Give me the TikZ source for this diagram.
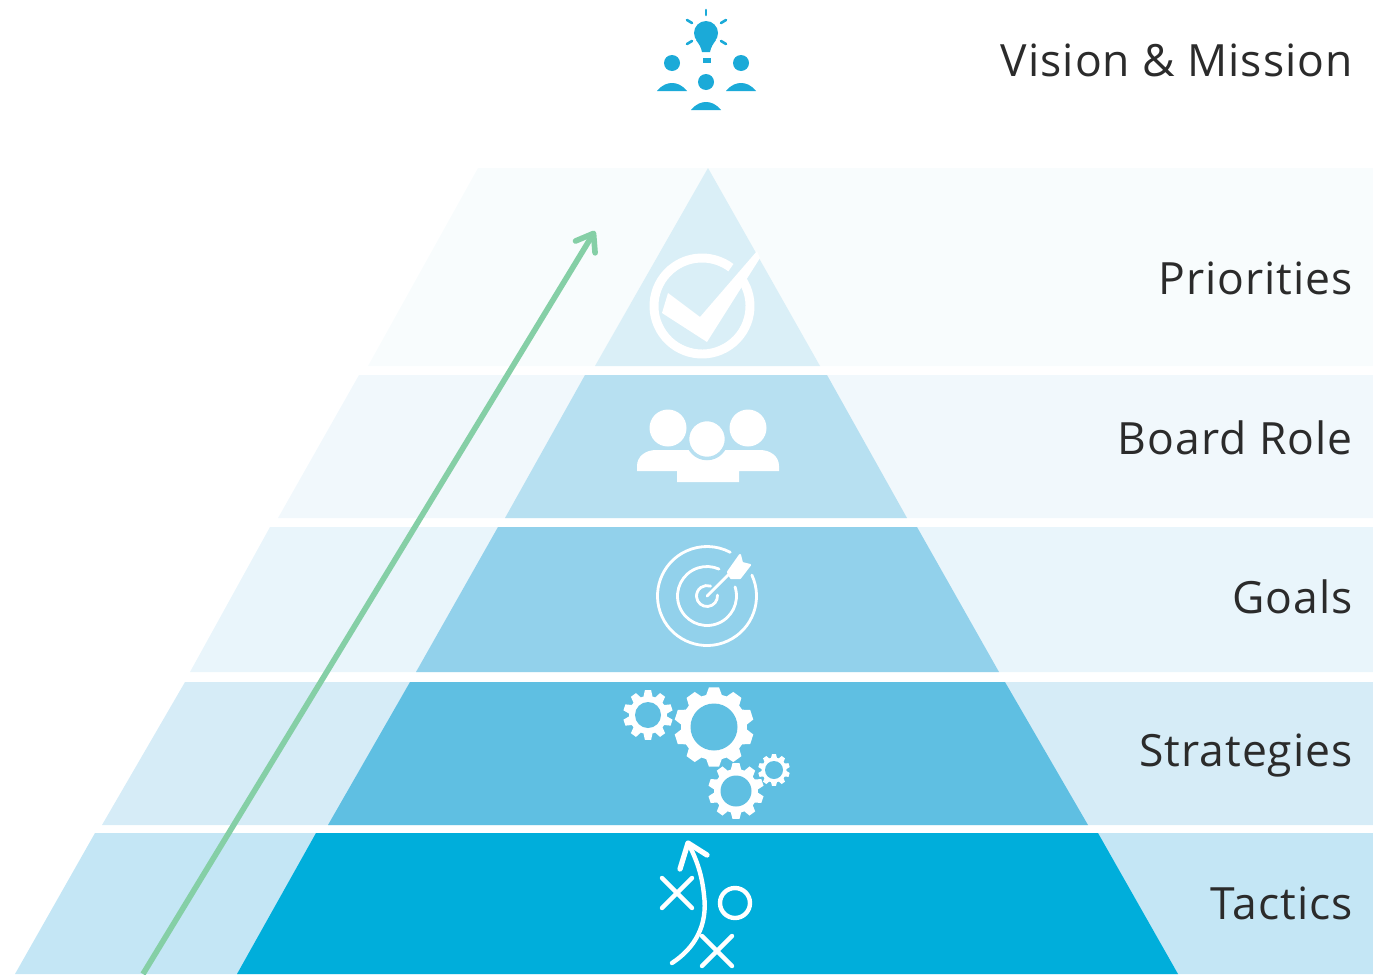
\documentclass[tikz,border=0pt]{standalone}
\usepackage{fontspec}
\setmainfont[LetterSpace=2.2]{Open Sans}
\usetikzlibrary{arrows.meta}
\definecolor{bandA}{HTML}{DAEFF7}
\definecolor{bandB}{HTML}{B7E0F1}
\definecolor{bandC}{HTML}{92D1EB}
\definecolor{bandD}{HTML}{5FBFE2}
\definecolor{bandE}{HTML}{00AEDB}
\definecolor{paleA}{HTML}{F8FCFD}
\definecolor{paleB}{HTML}{F1F8FC}
\definecolor{paleC}{HTML}{E9F5FB}
\definecolor{paleD}{HTML}{D6ECF7}
\definecolor{paleE}{HTML}{C4E6F5}
\definecolor{iconblue}{HTML}{1BAAD8}
\definecolor{climbgreen}{HTML}{85CFA6}
\definecolor{labeltext}{HTML}{2B2B2B}
\tikzset{
    bandlabel/.style={anchor=base east, inner sep=0pt, text=labeltext, font=\fontsize{25.3}{28}\selectfont},
    iconline/.style={draw=white, line width=2.5pt, line cap=round, line join=round},
    climbline/.style={draw=climbgreen, line width=3.2pt, -{Straight Barb[length=9pt,width=13pt,round]}}
}
\newcommand{\gearicon}[6]{
    \fill[white, shift={(#1,#2)}] (0:#3)
        \foreach \k in {1,...,#6} {
            -- ({(\k-1+0.12)*360/#6}:#3)
            -- ({(\k-1+0.3)*360/#6}:#4)
            -- ({(\k-1+0.7)*360/#6}:#4)
            -- ({(\k-1+0.88)*360/#6}:#3)
        } -- cycle;
    \fill[bandD] (#1,#2) circle (#5);
}
\begin{document}
\begin{tikzpicture}[x=0.02cm, y=-0.02cm]
    \useasboundingbox (0,0) rectangle (1373,974);
    \foreach \ytop/\ybot/\oa/\ob/\la/\lb/\ra/\rb/\outcol/\incol in {
        168/366/478/368/708/595/708/820/paleA/bandA,
        375/518/359/278/585/505/827/907/paleB/bandB,
        527/672/270/190/498/416/917/999/paleC/bandC,
        682/825/185/102/410/328/1005/1088/paleD/bandD,
        833/974/95/15/316/237/1098/1178/paleE/bandE} {
        \fill[\outcol] (\oa,\ytop) -- (1373,\ytop) -- (1373,\ybot) -- (\ob,\ybot) -- cycle;
        \fill[\incol] (\la,\ytop) -- (\ra,\ytop) -- (\rb,\ybot) -- (\lb,\ybot) -- cycle;
    }

    \coordinate (climbstart) at (143,974);
    \coordinate (climbtip) at (595,231);
    \draw[climbline] (climbstart) -- (climbtip);

    \node[bandlabel] (vision) at (1353,76) {Vision \& Mission};
    \node[bandlabel] (priorities) at (1353,294) {Priorities};
    \node[bandlabel] (board) at (1353,454) {Board Role};
    \node[bandlabel] (goals) at (1353,613) {Goals};
    \node[bandlabel] (strategies) at (1353,766) {Strategies};
    \node[bandlabel] (tactics) at (1353,919) {Tactics};

    \fill[iconblue] (706,33) circle (12);
    \fill[iconblue] (696,40) .. controls (699,44) and (701,47) .. (702,52) -- (710,52) .. controls (711,47) and (713,44) .. (716,40) -- cycle;
    \fill[iconblue] (703,58) rectangle (711,63);
    \foreach \xa/\ya/\xb/\yb in {706/10/706/15, 687/20/692/23, 726/20/721/23, 687/44/692/41, 726/44/721/41}
        \draw[iconblue, line width=1.5pt, line cap=round] (\xa,\ya) -- (\xb,\yb);
    \foreach \hx/\hy in {672/63, 741/63, 706/82} {
        \fill[iconblue] (\hx,\hy) circle (8);
        \fill[iconblue] (\hx-15,\hy+28) .. controls (\hx-10,\hy+22) and (\hx-5,\hy+20) .. (\hx,\hy+20)
            .. controls (\hx+5,\hy+20) and (\hx+10,\hy+22) .. (\hx+15,\hy+28) -- cycle;
    }

    \draw[white, line width=5.1pt] (702,306) ++(-35:48) arc (-35:307:48);
    \fill[white] (668,293) -- (662,313) -- (707,342) -- (760,258) -- (757,251) -- (700,317) -- cycle;

    \fill[white] (668,428) circle (18.5);
    \fill[white] (748,428) circle (18.5);
    \fill[white] (637,471) -- (637,466) .. controls (637,456) and (646,450) .. (656,450) -- (760,450)
        .. controls (770,450) and (779,456) .. (779,466) -- (779,471) -- (739,471) -- (739,482)
        -- (677,482) -- (677,471) -- cycle;
    \filldraw[fill=white, draw=bandB, line width=2pt] (707,439) circle (19.5);

    \draw[iconline, line width=1.6pt] (707,596) ++(-25:49.5) arc (-25:298:49.5);
    \draw[iconline, line width=1.6pt] (707,596) ++(-18:29.5) arc (-18:294:29.5);
    \draw[iconline, line width=1.6pt] (707,596) ++(-5:10.5) arc (-5:290:10.5);
    \draw[iconline, line width=1.6pt] (707,596) -- (729,574);
    \filldraw[fill=white, iconline, line width=1.2pt] (728,572) -- (740,555) -- (742,563) -- (750,565) -- (740,578) -- (731,578) -- cycle;

    \gearicon{648}{715}{19}{25}{13}{10}
    \gearicon{714}{727}{33}{40}{23.5}{10}
    \gearicon{736}{791}{22}{28}{15.5}{10}
    \gearicon{774}{770}{12.5}{16}{9}{10}

    \draw[iconline] (672,963) .. controls (695,948) and (708,925) .. (704,895) .. controls (702,875) and (697,860) .. (688,843);
    \draw[iconline, line width=3pt] (680,869) -- (688,843) -- (707,855);
    \draw[iconline] (662,878) -- (692,908);
    \draw[iconline] (692,878) -- (662,908);
    \draw[iconline] (702,936) -- (732,966);
    \draw[iconline] (732,936) -- (702,966);
    \draw[iconline] (735,903) circle (15);
\end{tikzpicture}
\end{document}
